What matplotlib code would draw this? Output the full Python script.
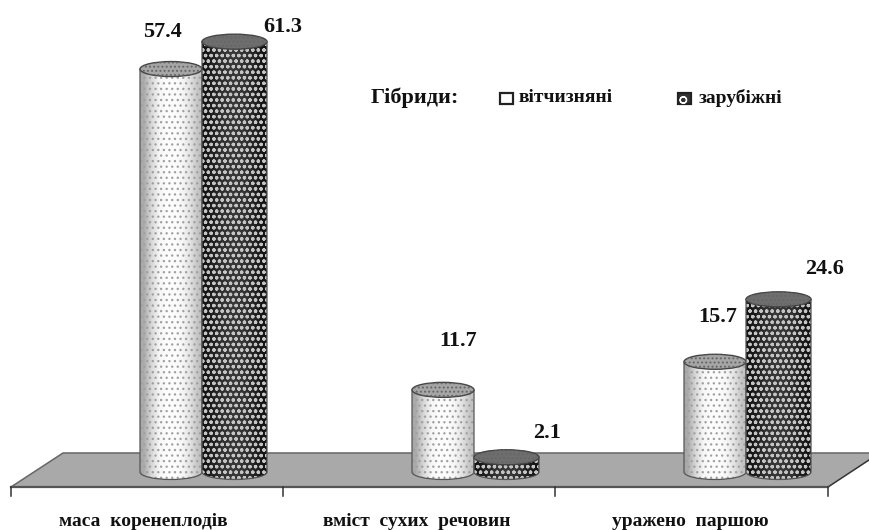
import matplotlib
matplotlib.use('Agg')
import matplotlib.pyplot as plt
import numpy as np
from matplotlib.patches import Ellipse, PathPatch, Polygon, Rectangle
from matplotlib.path import Path

categories = ['маса  коренеплодів', 'вміст  сухих  речовин', 'уражено  паршою']
series_names = ['вітчизняні', 'зарубіжні']
domestic = [57.4, 11.7, 15.7]
foreign = [61.3, 2.1, 24.6]

# label offsets in pixels from the top of each cylinder
domestic_off = [(-9, 37), (15, 49), (3, 45)]
foreign_off = [(48, 15), (41, 24), (46, 30)]
cat_px = [143, 417, 690]

plt.rcParams['font.family'] = ['Liberation Serif', 'DejaVu Serif']
plt.rcParams['hatch.linewidth'] = 0.9

GROUP = 272.0
UNIT = 7.02
X0 = 202.0
Y0 = 472.0


# pixels of the reference -> data coords
def px(x):
    return (x - X0) / GROUP


def py(y):
    return (Y0 - y) / UNIT


fig = plt.figure(figsize=(8.69, 5.3), dpi=100)
ax = fig.add_axes([0, 0, 1, 1])
ax.set_xlim(px(0), px(869))
ax.set_ylim(py(530), py(0))
ax.axis('off')

# floor
floor = [(px(11), py(487)), (px(63), py(453)), (px(869), py(453)),
         (px(869), py(460)), (px(828), py(487))]
ax.add_patch(Polygon(floor, closed=True, fc='#a9a9a9', ec='none', zorder=1))
ax.plot([px(11), px(63), px(869)], [py(487), py(453), py(453)], color='#666666', lw=1.1, zorder=1.5)
ax.plot([px(828), px(869)], [py(487), py(460)], color='#333333', lw=1.1, zorder=1.5)
ax.plot([px(11), px(828)], [py(487), py(487)], color='#555555', lw=1.6, zorder=1.5)
for t in [11, 283, 555, 828]:
    ax.plot([px(t), px(t)], [py(487), py(496)], color='#333333', lw=1.1, zorder=1.5)

EH = 15 / UNIT


def body_path(x, w, v):
    k = 0.5523
    l, r = x - w / 2, x + w / 2
    h = EH / 2
    verts = [(l, v), (l, 0),
             (l, -k * h), (x - k * w / 2, -h), (x, -h),
             (x + k * w / 2, -h), (r, -k * h), (r, 0),
             (r, v), (l, v)]
    codes = [Path.MOVETO, Path.LINETO,
             Path.CURVE4, Path.CURVE4, Path.CURVE4,
             Path.CURVE4, Path.CURVE4, Path.CURVE4,
             Path.LINETO, Path.CLOSEPOLY]
    return Path(verts, codes)


def cylinder(x, w, v, z, shade, hatch, hatch_col, top_col):
    path = body_path(x, w, v)
    clip = PathPatch(path, fc='none', ec='none', zorder=z)
    ax.add_patch(clip)
    im = ax.imshow(shade, extent=(x - w / 2, x + w / 2, -EH, v), aspect='auto',
                   cmap='gray', vmin=0, vmax=255, zorder=z, interpolation='bilinear')
    im.set_clip_path(clip)
    ax.add_patch(PathPatch(path, fc='none', ec=hatch_col, hatch=hatch, lw=0, zorder=z + 0.1))
    ax.add_patch(PathPatch(path, fc='none', ec='#555555', lw=0.9, zorder=z + 0.2))
    ax.add_patch(Ellipse((x, v), w, EH, fc=top_col, ec='#444444', lw=1.0, zorder=z + 0.3))
    ax.add_patch(Ellipse((x, v), w, EH, fc='none', ec='#666666', hatch='....', lw=0, zorder=z + 0.4))


light_shade = np.array([[170, 215, 245, 252, 252, 245, 225, 195]], dtype=float)
dark_shade = np.array([[20, 35, 50, 55, 55, 50, 35, 20]], dtype=float)

bar_w = 62 / GROUP
dark_w = 65 / GROUP
for i, v in enumerate(domestic):
    xc = i - bar_w / 2
    cylinder(xc, bar_w, v, 3 + i, light_shade, '...', '#a0a0a0', '#a6a6a6')
    off = domestic_off[i]
    ax.text(xc + off[0] / GROUP, v + off[1] / UNIT, f'{v}', ha='center', va='center',
            fontsize=16, fontweight='bold', color='#111111', zorder=10)
for i, v in enumerate(foreign):
    xc = i + dark_w / 2
    cylinder(xc, dark_w, v, 3.5 + i, dark_shade, 'ooo', '#c4c4c4', '#6e6e6e')
    off = foreign_off[i]
    ax.text(xc + off[0] / GROUP, v + off[1] / UNIT, f'{v}', ha='center', va='center',
            fontsize=16, fontweight='bold', color='#111111', zorder=10)

for name, c in zip(categories, cat_px):
    ax.text(px(c), py(521), name, ha='center', va='center', fontsize=14,
            fontweight='bold', color='#111111')

# legend
ax.text(px(371), py(98), 'Гібриди:', ha='left', va='center', fontsize=16,
        fontweight='bold', color='#111111')
ax.add_patch(Rectangle((px(500), py(104)), 13 / GROUP, 11 / UNIT, fc='white', ec='#222222',
                       lw=1.6))
ax.add_patch(Rectangle((px(678), py(104)), 13 / GROUP, 11 / UNIT, fc='#333333', ec='#222222',
                       lw=1.6))
ax.add_patch(Rectangle((px(678), py(104)), 13 / GROUP, 11 / UNIT, fc='none', ec='white',
                       lw=0, hatch='o'))
ax.text(px(519), py(98), series_names[0], ha='left', va='center', fontsize=14,
        fontweight='bold', color='#111111')
ax.text(px(699), py(98), series_names[1], ha='left', va='center', fontsize=14,
        fontweight='bold', color='#111111')

fig.savefig('out.png', dpi=100)
